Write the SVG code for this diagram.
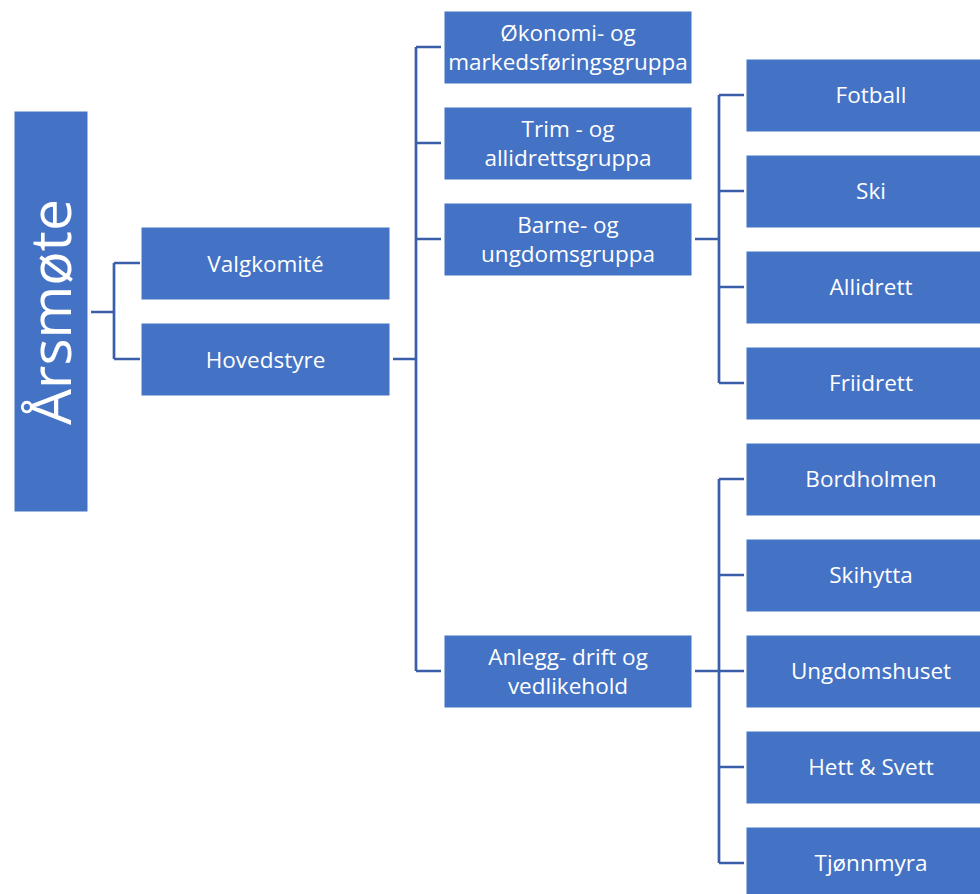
<svg xmlns="http://www.w3.org/2000/svg" width="980" height="894" viewBox="0 0 980 894">
<style>
.box{fill:#4472C4;stroke:#FFFFFF;stroke-width:1}
.t{fill:#FFFFFF;font-family:"Open Sans","Liberation Sans",sans-serif;font-size:22.5px;text-anchor:middle}
.big{fill:#FFFFFF;font-family:"Open Sans","Liberation Sans",sans-serif;font-size:57px;text-anchor:middle}
.c{fill:none;stroke:#3A5FA8;stroke-width:2.7}
</style>
<rect width="980" height="894" fill="#FFFFFF"/>
<g id="connectors">
<path class="c" d="M91,312 H114 M114,263 V359 M114,263 H140 M114,359 H140"/>
<path class="c" d="M393,359 H416 M416,47 V671 M416,47 H441 M416,143 H441 M416,239 H441 M416,671 H441"/>
<path class="c" d="M695,239 H719 M719,95 V383 M719,95 H744 M719,191 H744 M719,287 H744 M719,383 H744"/>
<path class="c" d="M695,671 H719 M719,479 V863 M719,479 H744 M719,575 H744 M719,671 H744 M719,767 H744 M719,863 H744"/>
</g>
<g id="arsmote"><rect class="box" x="14" y="111" width="74" height="401"/><text class="big" transform="translate(71,312) rotate(-90)">Årsmøte</text></g>
<g id="valgkomite"><rect class="box" x="141" y="227" width="249" height="73"/><text class="t" x="265.5" y="272">Valgkomité</text></g>
<g id="hovedstyre"><rect class="box" x="141" y="323" width="249" height="73"/><text class="t" x="265.5" y="368">Hovedstyre</text></g>
<g id="okonomi"><rect class="box" x="444" y="11" width="248" height="73"/><text class="t" x="568" y="41">Økonomi- og</text><text class="t" x="568" y="70">markedsføringsgruppa</text></g>
<g id="trim"><rect class="box" x="444" y="107" width="248" height="73"/><text class="t" x="568" y="137">Trim - og</text><text class="t" x="568" y="166">allidrettsgruppa</text></g>
<g id="barne"><rect class="box" x="444" y="203" width="248" height="73"/><text class="t" x="568" y="233">Barne- og</text><text class="t" x="568" y="262">ungdomsgruppa</text></g>
<g id="anlegg"><rect class="box" x="444" y="635" width="248" height="73"/><text class="t" x="568" y="665">Anlegg- drift og</text><text class="t" x="568" y="694">vedlikehold</text></g>
<g id="fotball"><rect class="box" x="746" y="59" width="250" height="73"/><text class="t" x="871" y="103">Fotball</text></g>
<g id="ski"><rect class="box" x="746" y="155" width="250" height="73"/><text class="t" x="871" y="199">Ski</text></g>
<g id="allidrett"><rect class="box" x="746" y="251" width="250" height="73"/><text class="t" x="871" y="295">Allidrett</text></g>
<g id="friidrett"><rect class="box" x="746" y="347" width="250" height="73"/><text class="t" x="871" y="391">Friidrett</text></g>
<g id="bordholmen"><rect class="box" x="746" y="443" width="250" height="73"/><text class="t" x="871" y="487">Bordholmen</text></g>
<g id="skihytta"><rect class="box" x="746" y="539" width="250" height="73"/><text class="t" x="871" y="583">Skihytta</text></g>
<g id="ungdomshuset"><rect class="box" x="746" y="635" width="250" height="73"/><text class="t" x="871" y="679">Ungdomshuset</text></g>
<g id="hett"><rect class="box" x="746" y="731" width="250" height="73"/><text class="t" x="871" y="775">Hett &amp; Svett</text></g>
<g id="tjonnmyra"><rect class="box" x="746" y="827" width="250" height="73"/><text class="t" x="871" y="871">Tjønnmyra</text></g>
</svg>
